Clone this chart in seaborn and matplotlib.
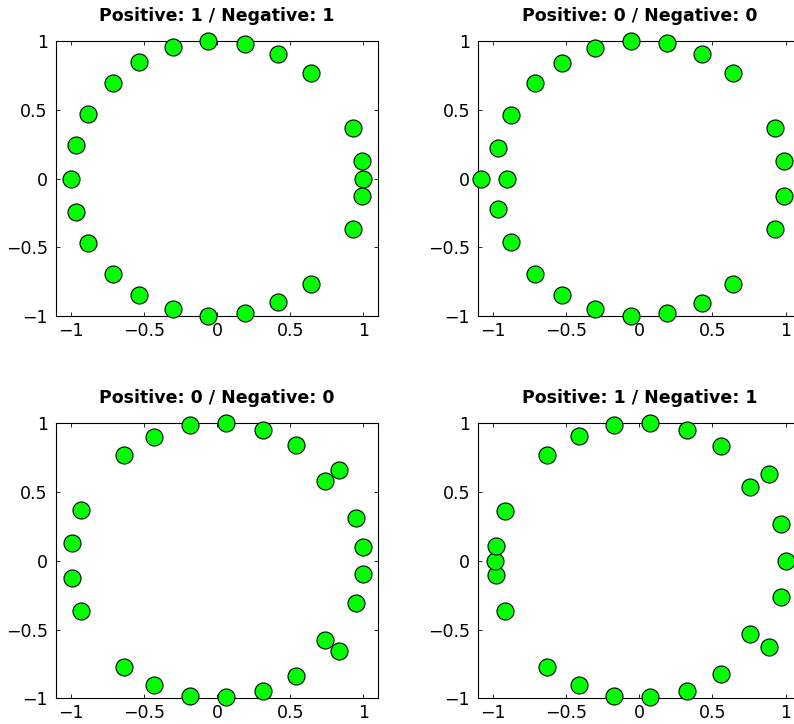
import matplotlib
matplotlib.use("Agg")
import matplotlib.pyplot as plt
import seaborn as sns

# ------------------------------------------------------------
# point coordinates
# ------------------------------------------------------------
titles = ["Positive: 1 / Negative: 1", "Positive: 0 / Negative: 0",
          "Positive: 0 / Negative: 0", "Positive: 1 / Negative: 1"]

x_tl = [-0.06, 0.19, 0.42, 0.64, 0.93, 0.99, 1.0, 0.99, 0.93, 0.64, 0.42, 0.19,
        -0.06, -0.30, -0.53, -0.71, -0.88, -0.96, -1.0, -0.96, -0.88, -0.71, -0.53, -0.30]
y_tl = [1.0, 0.98, 0.905, 0.77, 0.37, 0.13, 0.0, -0.13, -0.37, -0.77, -0.90, -0.98,
        -1.0, -0.95, -0.845, -0.695, -0.47, -0.246, 0.0, 0.246, 0.47, 0.695, 0.847, 0.954]

x_tr = [-0.06, 0.19, 0.43, 0.64, 0.93, 0.99, 0.99, 0.93, 0.64, 0.43, 0.19, -0.06,
        -0.30, -0.53, -0.71, -0.875, -0.966, -0.905, -1.08, -0.966, -0.875, -0.71, -0.53, -0.30]
y_tr = [1.0, 0.983, 0.905, 0.77, 0.37, 0.127, -0.125, -0.367, -0.77, -0.903, -0.981, -0.998,
        -0.952, -0.845, -0.693, -0.46, -0.222, 0.0, 0.0, 0.222, 0.462, 0.692, 0.842, 0.951]

x_bl = [0.064, 0.312, 0.538, 0.836, 0.736, 0.95, 0.995, 0.995, 0.95, 0.736, 0.836, 0.538,
        0.312, 0.064, -0.187, -0.428, -0.636, -0.932, -0.993, -0.993, -0.932, -0.636, -0.428, -0.187]
y_bl = [1.0, 0.952, 0.842, 0.661, 0.581, 0.312, 0.103, -0.096, -0.309, -0.576, -0.656, -0.837,
        -0.949, -0.993, -0.981, -0.903, -0.77, -0.367, -0.125, 0.13, 0.372, 0.772, 0.903, 0.985]

x_br = [0.075, 0.327, 0.561, 0.884, 0.755, 0.968, 1.0, 0.968, 0.755, 0.884, 0.561, 0.327,
        0.075, -0.175, -0.411, -0.63, -0.92, -0.982, -0.989, -0.982, -0.92, -0.63, -0.411, -0.175]
y_br = [1.0, 0.952, 0.835, 0.629, 0.539, 0.265, 0.0, -0.261, -0.535, -0.629, -0.825, -0.944,
        -0.993, -0.981, -0.903, -0.772, -0.362, -0.105, 0.0, 0.107, 0.365, 0.772, 0.908, 0.985]

panels = [(x_tl, y_tl), (x_tr, y_tr), (x_bl, y_bl), (x_br, y_br)]
ticks = [-1, -0.5, 0, 0.5, 1]
tick_labels = ["\u22121", "\u22120.5", "0", "0.5", "1"]

# ------------------------------------------------------------
# figure
# ------------------------------------------------------------
sns.set_style("white")
plt.rcParams["font.family"] = ["DejaVu Sans"]
plt.rcParams["text.color"] = "black"
plt.rcParams["xtick.color"] = "black"
plt.rcParams["ytick.color"] = "black"

W, H = 794, 724
fig = plt.figure(figsize=(W / 100, H / 100), dpi=100)

# axes boxes in pixels: left, top (width/height shared)
boxes = [(56, 41), (478.3, 41), (56, 423.3), (478.3, 423.3)]
aw, ah = 322, 275

for (left, top), (xs, ys), title in zip(boxes, panels, titles):
    ax = fig.add_axes([left / W, (H - top - ah) / H, aw / W, ah / H])
    sns.scatterplot(x=xs, y=ys, ax=ax, s=150, color="#00ff00",
                    edgecolor="black", linewidth=0.8, clip_on=False, zorder=3)
    ax.set_xlim(-1.1, 1.1)
    ax.set_ylim(-1, 1)
    ax.set_xticks(ticks)
    ax.set_yticks(ticks)
    ax.set_xticklabels(tick_labels)
    ax.set_yticklabels(tick_labels)
    ax.tick_params(direction="in", length=3, width=0.6, labelsize=12.5,
                   top=True, right=True, bottom=True, left=True,
                   color="black", labelcolor="black")
    ax.tick_params(axis="x", pad=4)
    ax.tick_params(axis="y", pad=6)
    for sp in ax.spines.values():
        sp.set_visible(True)
        sp.set_color("black")
        sp.set_linewidth(0.8)
    ax.set_title(title, fontsize=12.5, fontweight="bold", pad=14.5, color="black")

fig.savefig("out.png", dpi=100)
